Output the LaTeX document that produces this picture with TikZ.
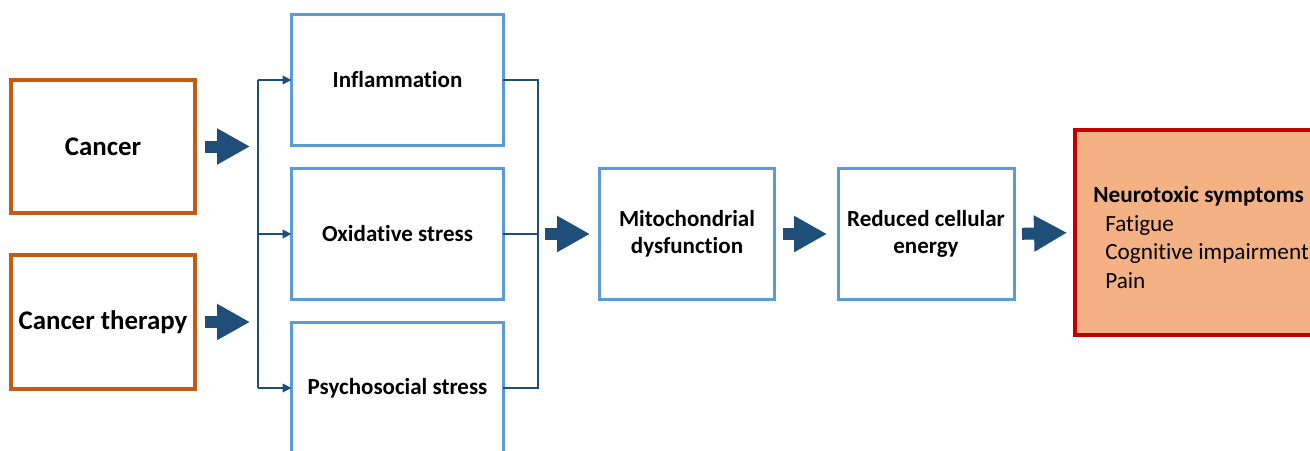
\documentclass[tikz,border=0pt]{standalone}
\usepackage{fontspec}
\setmainfont{Carlito}[Ligatures={NoCommon,NoContextual}]
\usetikzlibrary{arrows.meta}
\definecolor{corange}{RGB}{197,90,17}
\definecolor{cblue}{RGB}{91,155,213}
\definecolor{cdark}{RGB}{31,78,121}
\definecolor{cred}{RGB}{192,0,0}
\definecolor{cfill}{RGB}{244,177,131}
\tikzset{
  srcbox/.style={draw=corange, line width=0.08cm, fill=white, outer sep=0pt, minimum width=3.68cm, align=center, font=\fontsize{15.3}{18}\selectfont\bfseries},
  midbox/.style={draw=cblue, line width=0.06cm, fill=white, outer sep=0pt, minimum width=4.24cm, minimum height=2.64cm, align=center, font=\fontsize{13.1}{15.3}\selectfont\bfseries},
  chainbox/.style={midbox, minimum width=3.5cm},
  endbox/.style={draw=cred, line width=0.08cm, fill=cfill, outer sep=0pt, minimum width=5.1cm, minimum height=4.1cm},
  link/.style={draw=cdark, line width=1.3pt},
  linkarrow/.style={link, -{Triangle[length=0.18cm, width=0.17cm]}},
  blockarrow/.style={draw=cdark, line width=0.24cm, -{Triangle[length=0.66cm, width=0.68cm]}},
}
\begin{document}
\begin{tikzpicture}[x=0.02cm, y=-0.02cm]
\useasboundingbox (0,0) rectangle (1310,450);
\clip (0,0) rectangle (1310,450);
\fill[white] (0,0) rectangle (1310,450);

\node[srcbox, minimum height=2.66cm] (cancer) at (103,146.5) {Cancer};
\node[srcbox, minimum height=2.68cm] (therapy) at (103,322) {Cancer therapy};

\node[midbox] (infl) at (397.5,80) {Inflammation};
\node[midbox] (oxi) at (397.5,234) {Oxidative stress};
\node[midbox] (psy) at (397.5,388) {Psychosocial stress};

\node[chainbox] (mito) at (687,234) {Mitochondrial\\dysfunction};
\node[chainbox, minimum width=3.52cm] (energy) at (926,234) {Reduced cellular\\energy};

\node[endbox] (neuro) at (1202.5,232.5) {};
\node[anchor=north west, inner sep=0pt, align=left, font=\fontsize{13.2}{16.2}\selectfont] (neurotext) at (1093,186)
  {\textbf{Neurotoxic symptoms}\\\hspace*{6.8pt}Fatigue\\\hspace*{6.8pt}Cognitive impairment\\\hspace*{6.8pt}Pain};

\coordinate (lb) at (258,234);
\coordinate (rb) at (538,234);

\draw[link] (lb |- infl.west) -- (lb |- psy.west);
\draw[linkarrow] (lb |- infl.west) -- (infl.west);
\draw[linkarrow] (lb |- oxi.west) -- (oxi.west);
\draw[linkarrow] (lb |- psy.west) -- (psy.west);

\draw[link] (infl.east) -- (rb |- infl.east) -- (rb |- psy.east) -- (psy.east);
\draw[link] (oxi.east) -- (rb);

\draw[blockarrow, shorten <=0.2cm, shorten >=0.16cm] (cancer.east) -- (lb |- cancer.east);
\draw[blockarrow, shorten <=0.2cm, shorten >=0.16cm] (therapy.east) -- (lb |- therapy.east);
\draw[blockarrow, shorten <=0.14cm, shorten >=0.19cm] (rb) -- (mito.west);
\draw[blockarrow, shorten <=0.17cm, shorten >=0.22cm] (mito.east) -- (energy.west);
\draw[blockarrow, shorten <=0.16cm, shorten >=0.16cm] (energy.east) -- (neuro.west);
\end{tikzpicture}
\end{document}
